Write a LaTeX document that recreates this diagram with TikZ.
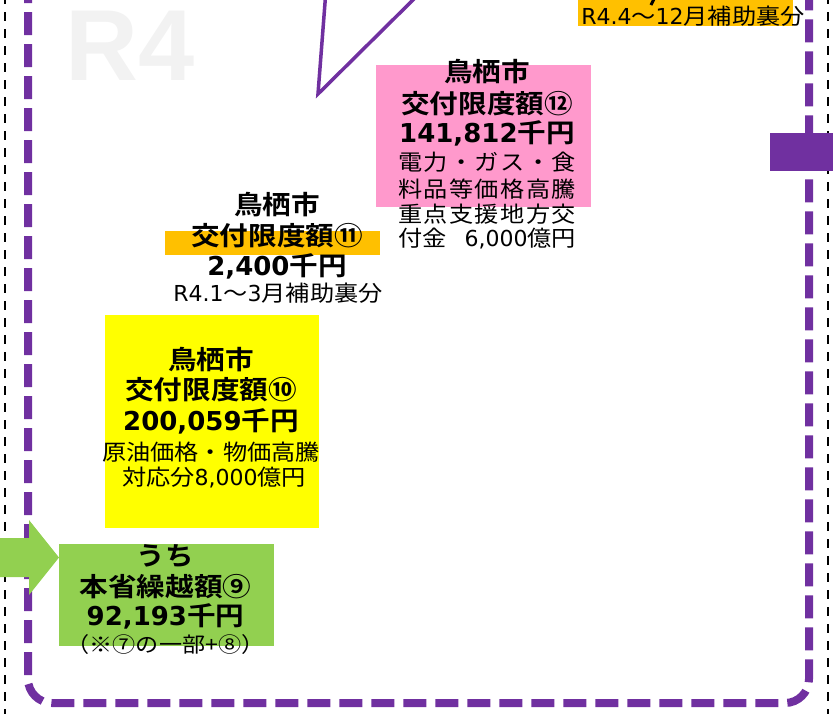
\documentclass[tikz,border=0pt]{standalone}
\usepackage{fontspec}
\newfontfamily\jp{Noto Sans CJK JP}[FakeStretch=1.1, BoldFont={Noto Sans CJK JP Bold}]
\newfontfamily\lat{DejaVu Sans}
\newfontfamily\rfont{Liberation Sans}
\newcommand\latn[1]{{\lat #1}}
\definecolor{cpurple}{HTML}{7030A0}
\definecolor{corange}{HTML}{FFC000}
\definecolor{cpink}{HTML}{FF99CC}
\definecolor{cyellow}{HTML}{FFFF00}
\definecolor{cgreen}{HTML}{92D050}
\definecolor{cgray}{HTML}{F2F2F2}
\tikzset{
  hb/.style={inner sep=0pt, font=\jp\bfseries\fontsize{26pt}{30pt}\selectfont},
  rg/.style={inner sep=0pt, font=\jp\fontsize{22pt}{26pt}\selectfont},
  sm/.style={inner sep=0pt, font=\jp\fontsize{21pt}{24pt}\selectfont},
  box/.style={inner sep=0pt, outer sep=0pt, anchor=north west},
  blackdash/.style={line width=2.7pt, dash pattern=on 9pt off 8pt},
  purpledash/.style={draw=cpurple, line width=8pt, dash pattern=on 23pt off 9pt, rounded corners=24pt},
}
\begin{document}
\begin{tikzpicture}[x=1pt,y=-1pt]
\useasboundingbox (0,0) rectangle (833,713);
\clip (0,0) rectangle (833,713);
% background text
\node[inner sep=0pt, anchor=base west, text=cgray, font=\rfont\bfseries\fontsize{101pt}{110pt}\selectfont] (r4) at (65,80) {R4};
% frame lines
\draw[blackdash] (5,-5) -- (5,720);
\draw[blackdash] (828,-5) -- (828,720);
\draw[purpledash] (28,-20) -- (28,703) -- (809,703) -- (809,-20);
\node[box, fill=cpurple, minimum width=63pt, minimum height=38pt] (pbar) at (770,133) {};
% callout triangle
\draw[cpurple, line width=3.5pt, line join=miter] (326,-10) -- (318,94) -- (423,-10);
% top orange label
\node[box, fill=corange, minimum width=215pt, minimum height=30pt] (obox) at (578,-4) {};
\node[rg] (otext) at (693,16) {\latn{R4.4}～\latn{12}月補助裏分};
\draw[line width=3pt] (654,-1) -- (651,5);
% pink box 12
\node[box, fill=cpink, minimum width=215pt, minimum height=142pt] (pinkbox) at (376,65) {};
\node[hb] (p1) at (487,71.5) {鳥栖市};
\node[hb] (p2) at (487,104) {交付限度額⑫};
\node[hb] (p3) at (487,133.5) {\latn{141,812}千円};
\node[rg] (p4) at (487,162) {\makebox[178pt][s]{電\hfill 力\hfill ・\hfill ガ\hfill ス\hfill ・\hfill 食}};
\node[rg] (p5) at (487,189) {\makebox[178pt][s]{料\hfill 品\hfill 等\hfill 価\hfill 格\hfill 高\hfill 騰}};
\node[rg] (p6) at (487,214) {\makebox[178pt][s]{重\hfill 点\hfill 支\hfill 援\hfill 地\hfill 方\hfill 交}};
\node[rg] (p7) at (487,239) {\makebox[178pt][s]{付金\hfill\latn{6,000}億円}};
% orange bar 11
\node[box, fill=corange, minimum width=215pt, minimum height=24pt] (obar) at (165,231) {};
\node[hb] (o1) at (277,205) {鳥栖市};
\node[hb] (o2) at (277,235.5) {交付限度額⑪};
\node[hb] (o3) at (277,266) {\latn{2,400}千円};
\node[rg] (o4) at (278,293) {\latn{R4.1}～\latn{3}月補助裏分};
% yellow box 10
\node[box, fill=cyellow, minimum width=214pt, minimum height=213pt] (ybox) at (105,315) {};
\node[hb] (y1) at (211,360) {鳥栖市};
\node[hb] (y2) at (211,390) {交付限度額⑩};
\node[hb] (y3) at (211,421) {\latn{200,059}千円};
\node[rg] (y4) at (211,452) {原油価格・物価高騰};
\node[rg] (y5) at (214,477.5) {対応分\latn{8,000}億円};
% green box 9
\node[box, fill=cgreen, minimum width=215pt, minimum height=102pt] (gbox) at (59,544) {};
\node[hb] (g1) at (165.5,556) {うち};
\node[hb] (g2) at (165.5,586.5) {本省繰越額⑨};
\node[hb] (g3) at (165.5,616.5) {\latn{92,193}千円};
\node[sm] (g4) at (165.5,645) {（※⑦の一部+⑧）};
% green arrow
\coordinate (atip) at (gbox.west |- 0,557.5);
\fill[cgreen] (-5,538) -- (29,538) -- (29,520) -- (atip) -- (29,595) -- (29,577) -- (-5,577) -- cycle;
\end{tikzpicture}
\end{document}
